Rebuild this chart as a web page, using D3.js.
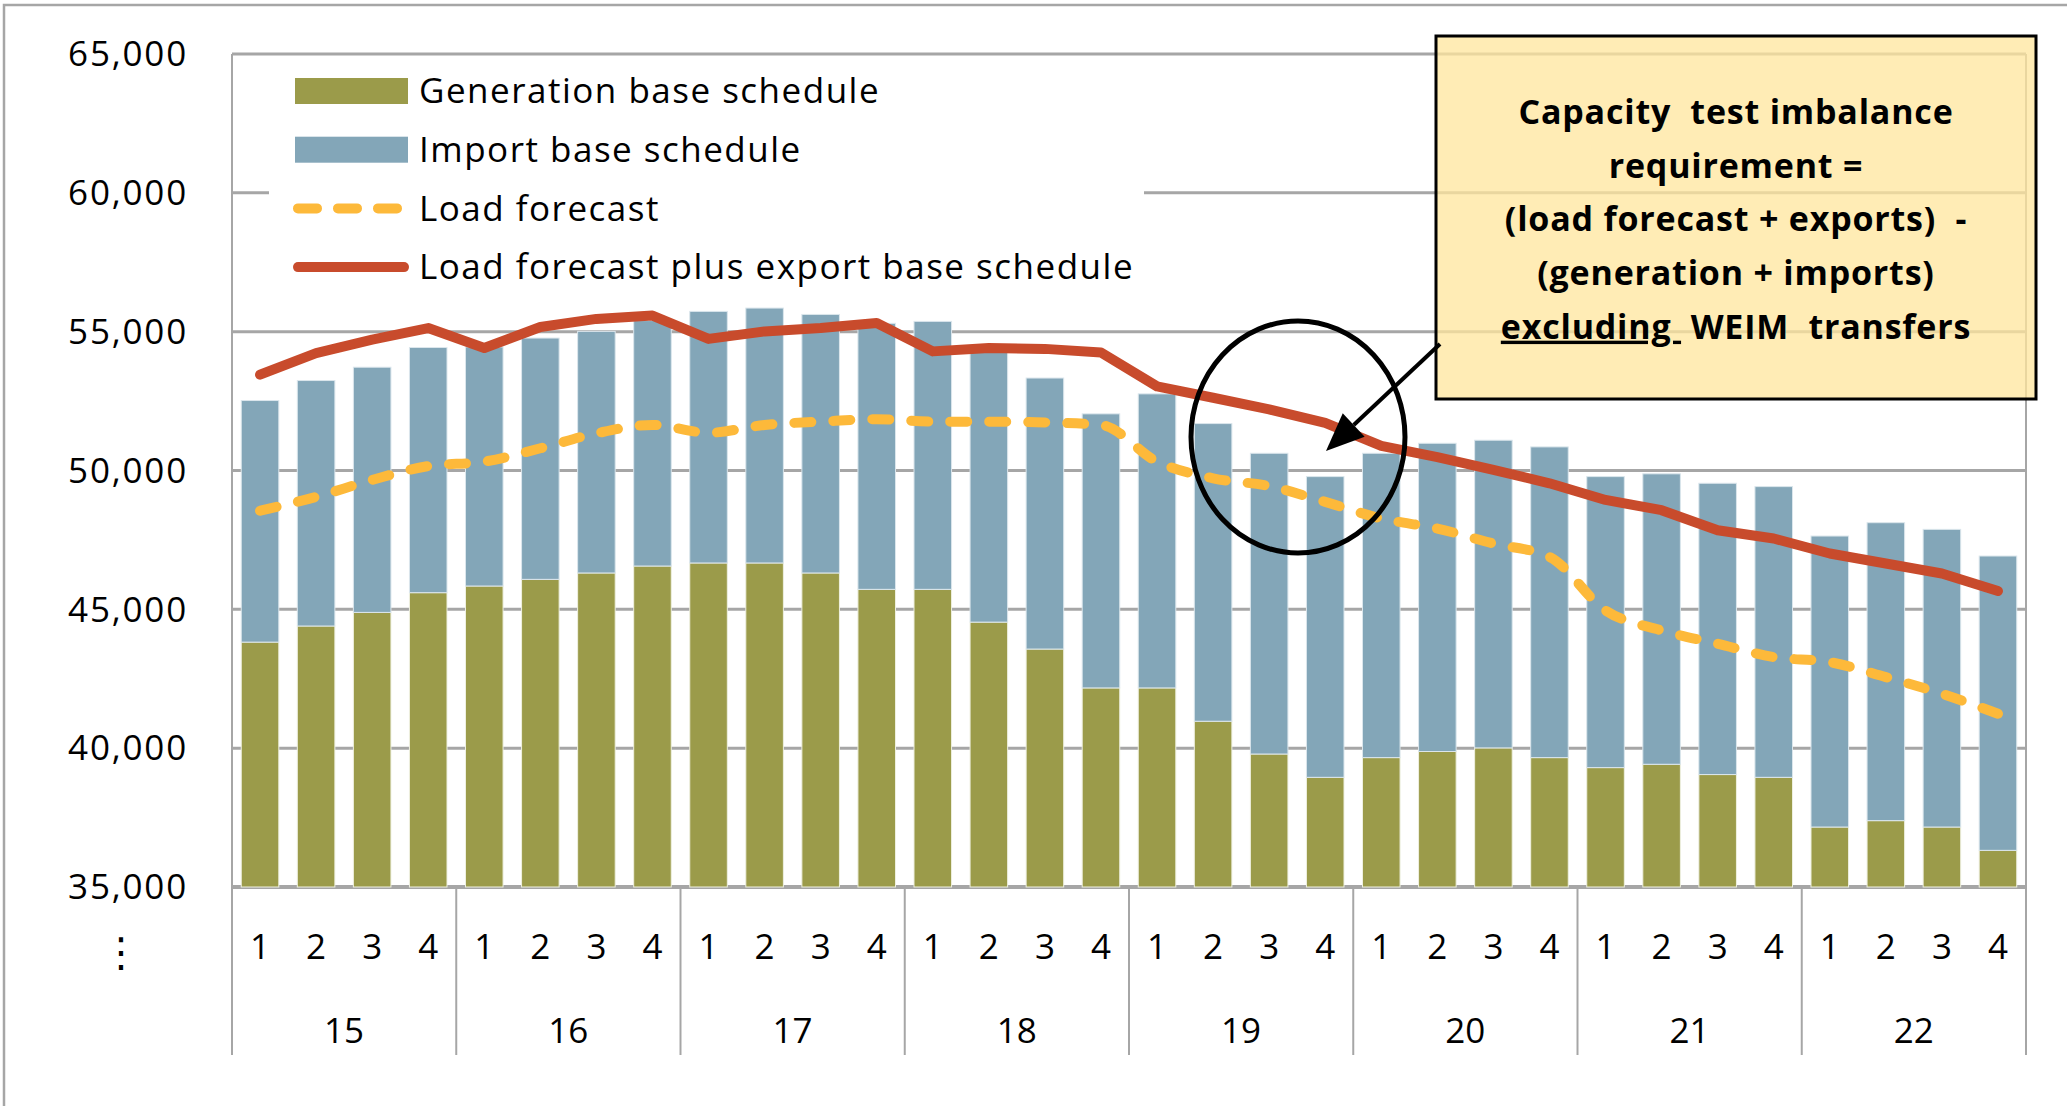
<!DOCTYPE html>
<html>
<head>
<meta charset="utf-8">
<script src="https://cdn.jsdelivr.net/npm/d3@7"></script>
<style>
  body { margin: 0; background: #fff; }
  text { font-family: "Open Sans", Lato, sans-serif; fill: #000; }
</style>
</head>
<body>
<div id="chart"></div>
<script>
const years = ["15", "16", "17", "18", "19", "20", "21", "22"];
const quarters = ["1", "2", "3", "4"];

// MW values, one per quarter
const generation = [43820, 44400, 44890, 45600, 45840, 46080, 46310, 46560,
  46670, 46670, 46310, 45720, 45720, 44540, 43570, 42170,
  42170, 40970, 39790, 38950, 39660, 39880, 40010, 39660,
  39300, 39420, 39050, 38950, 37160, 37390, 37160, 36320];
const imports = [8700, 8840, 8830, 8830, 8610, 8690, 8700, 8840,
  9060, 9180, 9310, 9580, 9650, 9760, 9760, 9870,
  10590, 10720, 10830, 10830, 10960, 11100, 11080, 11190,
  10480, 10460, 10490, 10470, 10480, 10730, 10720, 10600];
const loadForecast = [48550, 49050, 49660, 50160, 50320, 50800, 51340, 51640,
  51360, 51640, 51760, 51850, 51760, 51760, 51730, 51640,
  50320, 49720, 49440, 48870, 48270, 47910, 47370, 46890,
  44960, 44240, 43760, 43280, 43100, 42560, 41960, 41240];
const loadPlusExports = [53450, 54230, 54710, 55130, 54410, 55170, 55460, 55580,
  54740, 55010, 55130, 55310, 54290, 54410, 54380, 54250,
  53030, 52620, 52200, 51715, 50890, 50480, 50020, 49540,
  48940, 48570, 47850, 47550, 47010, 46650, 46290, 45660];

const yTicks = [35000, 40000, 45000, 50000, 55000, 60000, 65000];
const legendLabels = ["Generation base schedule", "Import base schedule",
  "Load forecast", "Load forecast plus export base schedule"];
const noteLines = ["Capacity  test imbalance", "requirement =",
  "(load forecast + exports)  -", "(generation + imports)"];

const colors = {gen: "#9b9b4a", imp: "#83a6b8", load: "#fdb93a", export: "#c84b2c", grid: "#a6a6a6"};

const W = 2067, H = 1106;
const plot = {left: 232, right: 2026, top: 54, bottom: 887, axisBottom: 1055};

const periods = years.flatMap(y => quarters.map(q => ({year: y, q: q})));
const idx = d3.range(periods.length);

const svg = d3.select("#chart").append("svg")
  .attr("width", W).attr("height", H);

const x = d3.scaleBand().domain(idx)
  .range([plot.left, plot.right])
  .paddingInner(0.33).paddingOuter(0.165);
const y = d3.scaleLinear().domain([35000, 65000]).range([plot.bottom, plot.top]);
const cx = i => x(i) + x.bandwidth() / 2;

// outer frame
svg.append("rect").attr("x", 4).attr("y", 5).attr("width", W + 50).attr("height", H + 50)
  .attr("fill", "none").attr("stroke", colors.grid).attr("stroke-width", 2.5);

// grid lines
svg.append("g").selectAll("line").data(yTicks).enter().append("line")
  .attr("x1", plot.left).attr("x2", plot.right)
  .attr("y1", d => y(d)).attr("y2", d => y(d))
  .attr("stroke", colors.grid)
  .attr("stroke-width", d => d === 35000 ? 4 : 3);

// y tick labels
svg.append("g").selectAll("text").data(yTicks).enter().append("text")
  .attr("x", 188).attr("y", d => y(d)).attr("dy", "0.35em")
  .attr("text-anchor", "end").attr("font-size", 35)
  .attr("letter-spacing", 1.8)
  .text(d3.format(","));

svg.append("text").attr("x", 121).attr("y", 952).attr("dy", "0.35em")
  .attr("text-anchor", "middle").attr("font-size", 40)
  .style("font-family", "DejaVu Sans").text("\u22EE");

// vertical borders and year dividers
const groupEdges = d3.range(years.length + 1).map(g => plot.left + g * (plot.right - plot.left) / years.length);
svg.append("g").selectAll("line").data(groupEdges).enter().append("line")
  .attr("x1", d => d).attr("x2", d => d)
  .attr("y1", (d, i) => (i === 0 || i === years.length) ? plot.top : plot.bottom)
  .attr("y2", plot.axisBottom)
  .attr("stroke", colors.grid).attr("stroke-width", 2);

// legend box
svg.append("rect").attr("x", 269).attr("y", 62).attr("width", 875).attr("height", 240)
  .attr("fill", "#fff");

// stacked bars
const bars = svg.append("g");
bars.selectAll(".gen").data(idx).enter().append("rect")
  .attr("class", "gen")
  .attr("x", i => x(i)).attr("width", x.bandwidth())
  .attr("y", i => y(generation[i]))
  .attr("height", i => y(35000) - y(generation[i]))
  .attr("fill", colors.gen).attr("stroke", "#eef0e0").attr("stroke-width", 1);
bars.selectAll(".imp").data(idx).enter().append("rect")
  .attr("class", "imp")
  .attr("x", i => x(i)).attr("width", x.bandwidth())
  .attr("y", i => y(generation[i] + imports[i]))
  .attr("height", i => y(generation[i]) - y(generation[i] + imports[i]))
  .attr("fill", colors.imp).attr("stroke", "#dbe6ec").attr("stroke-width", 1);

// lines
const loadLine = d3.line().x(i => cx(i)).y(i => y(loadForecast[i])).curve(d3.curveMonotoneX);
svg.append("path").attr("d", loadLine(idx))
  .attr("fill", "none").attr("stroke", colors.load).attr("stroke-width", 10)
  .attr("stroke-linecap", "round").attr("stroke-dasharray", "17,22");

const exportLine = d3.line().x(i => cx(i)).y(i => y(loadPlusExports[i])).curve(d3.curveLinear);
svg.append("path").attr("d", exportLine(idx))
  .attr("fill", "none").attr("stroke", colors.export).attr("stroke-width", 10)
  .attr("stroke-linecap", "round").attr("stroke-linejoin", "round");

// category axis labels
svg.append("g").selectAll("text").data(periods).enter().append("text")
  .attr("x", (d, i) => cx(i)).attr("y", 959)
  .attr("text-anchor", "middle").attr("font-size", 35)
  .text(d => d.q);
svg.append("g").selectAll("text").data(years).enter().append("text")
  .attr("x", (d, g) => (groupEdges[g] + groupEdges[g + 1]) / 2).attr("y", 1043)
  .attr("text-anchor", "middle").attr("font-size", 35)
  .text(d => d);

// legend entries
const legend = svg.append("g");
const rowY = i => 91 + i * 58.7;
legendLabels.forEach((label, i) => {
  if (i < 2) {
    legend.append("rect").attr("x", 295).attr("y", rowY(i) - 13).attr("width", 113).attr("height", 26)
      .attr("fill", i === 0 ? colors.gen : colors.imp);
  } else {
    legend.append("line").attr("x1", 298).attr("x2", i === 2 ? 397 : 404)
      .attr("y1", rowY(i)).attr("y2", rowY(i))
      .attr("stroke", i === 2 ? colors.load : colors.export).attr("stroke-width", 10)
      .attr("stroke-linecap", "round")
      .attr("stroke-dasharray", i === 2 ? "19,21" : null);
  }
  legend.append("text").attr("x", 419).attr("y", rowY(i)).attr("dy", "0.35em")
    .attr("font-size", 35).attr("letter-spacing", 1.5).text(label);
});

// annotation box
svg.append("rect").attr("x", 1436).attr("y", 36).attr("width", 600).attr("height", 363)
  .attr("fill", "#ffe69c").attr("fill-opacity", 0.75)
  .attr("stroke", "#000").attr("stroke-width", 3);

const noteX = 1736;
noteLines.forEach((line, i) => {
  svg.append("text").attr("x", noteX).attr("y", 112 + i * 53.7).attr("dy", "0.35em")
    .attr("text-anchor", "middle").attr("font-size", 34).attr("font-weight", "bold")
    .attr("letter-spacing", 0.8)
    .style("white-space", "pre").text(line);
});
const last = svg.append("text").attr("x", noteX).attr("y", 112 + 4 * 53.7).attr("dy", "0.35em")
  .attr("text-anchor", "middle").attr("font-size", 34).attr("font-weight", "bold")
  .attr("letter-spacing", 0.8)
  .style("white-space", "pre");
last.append("tspan").attr("text-decoration", "underline").text("excluding ");
last.append("tspan").text(" WEIM  transfers");

// circle and arrow
svg.append("ellipse").attr("cx", 1298).attr("cy", 437).attr("rx", 107).attr("ry", 116)
  .attr("fill", "none").attr("stroke", "#000").attr("stroke-width", 5);

const tail = [1440, 344], tip = [1326, 451];
const ang = Math.atan2(tip[1] - tail[1], tip[0] - tail[0]);
const headLen = 38, headHalf = 16;
const base = [tip[0] - headLen * Math.cos(ang), tip[1] - headLen * Math.sin(ang)];
svg.append("line").attr("x1", tail[0]).attr("y1", tail[1]).attr("x2", base[0]).attr("y2", base[1])
  .attr("stroke", "#000").attr("stroke-width", 4);
svg.append("path")
  .attr("d", d3.line()([
    tip,
    [base[0] + headHalf * Math.sin(ang), base[1] - headHalf * Math.cos(ang)],
    [base[0] - headHalf * Math.sin(ang), base[1] + headHalf * Math.cos(ang)]
  ]) + "Z")
  .attr("fill", "#000");
</script>
</body>
</html>
